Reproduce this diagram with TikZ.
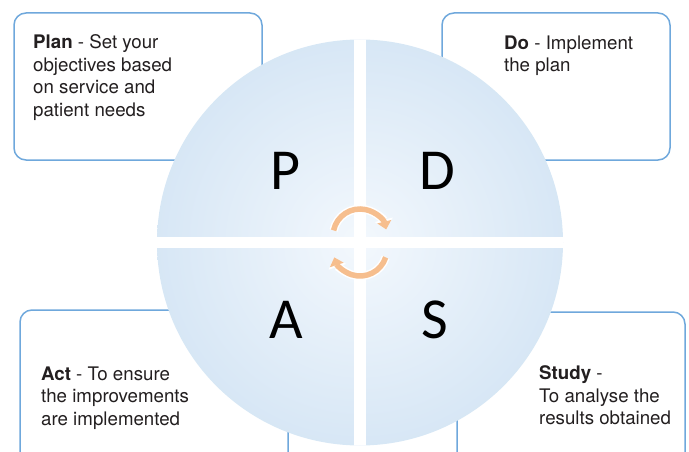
\documentclass[tikz,border=0pt]{standalone}
\usepackage{fontspec}
\setmainfont{TeX Gyre Heros}
\newfontfamily\quadfont{Carlito}
\usetikzlibrary{arrows.meta}

\definecolor{boxblue}{RGB}{111,168,220}
\definecolor{discedge}{RGB}{186,210,235}
\definecolor{discmid}{RGB}{214,230,245}
\definecolor{disccentre}{RGB}{243,248,253}
\definecolor{cyclepeach}{RGB}{246,190,142}
\definecolor{textgrey}{RGB}{35,31,32}

\pgfdeclareradialshading{discshade}{\pgfpoint{0bp}{0bp}}{color(0bp)=(disccentre); color(26bp)=(discmid); color(50bp)=(discedge)}

\tikzset{
	stagebox/.style={draw=boxblue, line width=1.5pt, rounded corners=12pt, fill=white},
	stagetext/.style={anchor=north west, inner sep=0pt, align=left, text=textgrey,
		font=\fontsize{18.7}{22.5}\selectfont},
	quadletter/.style={font=\quadfont\fontsize{58}{58}\selectfont, inner sep=0pt},
	cyclearrow/.style={draw=cyclepeach, line width=5.5pt, -{Triangle[width=14pt,length=8pt]},
		preaction={draw=white, line width=8.5pt, -{Triangle[width=18pt,length=10pt]}}}
}

\begin{document}
\begin{tikzpicture}[x=1pt, y=-1pt]
	\useasboundingbox (0,0) rectangle (689,452);
	\clip (0,0) rectangle (689,452);

	% the four text boxes behind the disc
	\draw[stagebox] (14,13) rectangle (262,160);
	\draw[stagebox] (442,13) rectangle (670,160);
	\draw[stagebox] (20,310) rectangle (288,475);
	\draw[stagebox] (457,312) rectangle (685,475);

	\node[stagetext] (plan) at (33,34.5) {\textbf{Plan} - Set your\\objectives based\\on service and\\patient needs};
	\node[stagetext] (do) at (504,35.5) {\textbf{Do} - Implement\\the plan};
	\node[stagetext] (act) at (41,366.5) {\textbf{Act} - To ensure\\the improvements\\are implemented};
	\node[stagetext] (study) at (539,365.5) {\textbf{Study} -\\To analyse the\\results obtained};

	% disc, cut into quadrants by a white cross
	\begin{scope}
		\clip (360,242.5) circle (203);
		\shade[shading=discshade] (360,242.5) circle (203);
		\fill[white] (354,30) rectangle (366,460);
		\fill[white] (150,237) rectangle (570,248);
	\end{scope}

	\node[quadletter] (p) at (285,171) {P};
	\node[quadletter] (d) at (437,171) {D};
	\node[quadletter] (a) at (286,320) {A};
	\node[quadletter] (s) at (435,320) {S};

	% cycle arrows in the middle
	\draw[cyclearrow] (360,236) ++(-168:27) arc[start angle=-168, end angle=-14, radius=27];
	\draw[cyclearrow] (360,249) ++(18:27) arc[start angle=18, end angle=162, radius=27];
\end{tikzpicture}
\end{document}
